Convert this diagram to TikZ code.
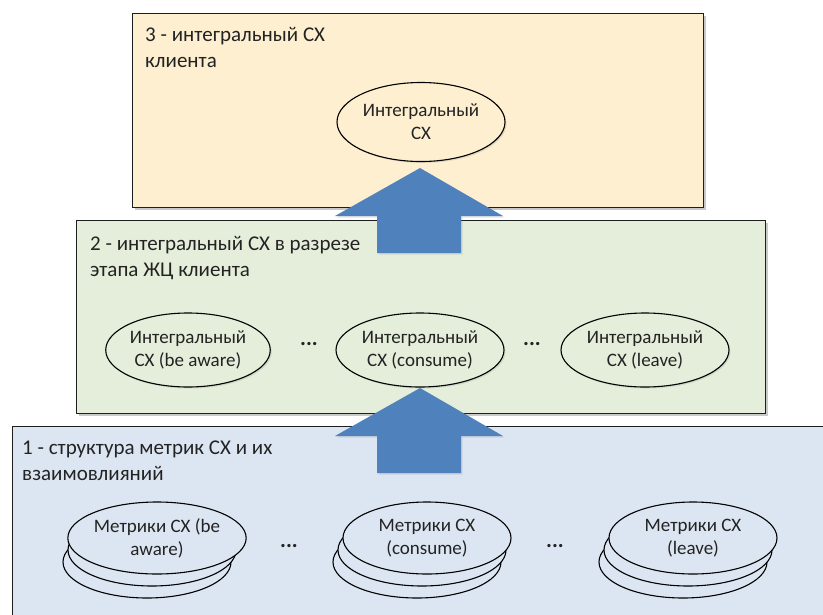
\documentclass[tikz,border=0pt]{standalone}
\usepackage{fontspec}
\setmainfont{Carlito}
\usetikzlibrary{shapes.geometric,shadows}
\definecolor{topfill}{RGB}{253,239,208}
\definecolor{midfill}{RGB}{228,238,218}
\definecolor{botfill}{RGB}{220,230,242}
\definecolor{arrowblue}{RGB}{79,129,189}
\definecolor{txt}{RGB}{35,35,35}
\definecolor{edge}{RGB}{30,30,30}
\begin{document}
\begin{tikzpicture}[x=1pt,y=-1pt,
  layerbox/.style={draw=edge, line width=1.3pt, inner sep=0pt, anchor=north west,
    drop shadow={shadow xshift=2pt,shadow yshift=-2pt,opacity=0.35,fill=black!60}},
  oval/.style={ellipse, draw=black, line width=1.1pt, inner sep=0pt, align=center, text=txt,
    font=\fontsize{19}{23}\selectfont},
  ovalshadow/.style={drop shadow={shadow xshift=1.5pt,shadow yshift=-1.5pt,opacity=0.2,fill=black!50}},
  lbl/.style={anchor=base west, align=left, inner sep=0pt, text=txt, font=\fontsize{21}{26}\selectfont},
  dotsnode/.style={inner sep=0pt, text=txt, font=\fontsize{22}{24}\selectfont\bfseries},
  bigarrow/.style={fill=arrowblue, draw=none,
    drop shadow={shadow xshift=1.5pt,shadow yshift=-1.5pt,opacity=0.2,fill=black!50}}]
\useasboundingbox (0,0) rectangle (823,614);
\fill[white] (0,0) rectangle (823,614);

% layer boxes
\node[layerbox, fill=topfill, minimum width=571, minimum height=194] (layer3) at (132,13) {};
\node[layerbox, fill=midfill, minimum width=689, minimum height=193] (layer2) at (76,220) {};
\node[layerbox, fill=botfill, minimum width=830, minimum height=200] (layer1) at (12,426) {};

% labels (anchor = baseline of the last line)
\node[lbl] (lbl3) at (145,67) {3 - интегральный СХ\\клиента};
\node[lbl] (lbl2) at (90,276) {2 - интегральный СХ в разрезе\\этапа ЖЦ клиента};
\node[lbl] (lbl1) at (22,480) {1 - структура метрик СХ и их\\взаимовлияний};

% top ellipse
\node[oval, ovalshadow, fill=topfill, minimum width=168, minimum height=79] (total) at (421,122) {Интегральный\\СХ};

% middle ellipses
\node[oval, ovalshadow, fill=midfill, minimum width=154, minimum height=74] (ia) at (188,350) {Интегральный\\СХ (be aware)};
\node[oval, ovalshadow, fill=midfill, minimum width=168, minimum height=74] (ic) at (420,350) {Интегральный\\СХ (consume)};
\node[oval, ovalshadow, fill=midfill, minimum width=168, minimum height=74] (il) at (645,350) {Интегральный\\СХ (leave)};
\node[dotsnode] (d1) at (309,344) {...};
\node[dotsnode] (d2) at (532,344) {...};

% bottom stacks
\foreach \cx/\nm in {157/a,427/c,693/l}{
  \node[oval, fill=botfill, minimum width=168, minimum height=72] (m\nm3) at (\cx-10,562) {};
  \node[oval, fill=botfill, minimum width=168, minimum height=72] (m\nm2) at (\cx-5,550) {};
}
\node[oval, fill=botfill, minimum width=168, minimum height=72] (ma) at (157,538) {Метрики СХ (be\\aware)};
\node[oval, fill=botfill, minimum width=168, minimum height=72] (mc) at (427,538) {Метрики СХ\\(consume)};
\node[oval, fill=botfill, minimum width=168, minimum height=72] (ml) at (693,538) {Метрики СХ\\(leave)};
\node[dotsnode] (d3) at (289,546) {...};
\node[dotsnode] (d4) at (555,546) {...};

% block arrows
\path[bigarrow] (420,168) -- (503,216) -- (461,216) -- (461,253) -- (377,253) -- (377,216) -- (335,216) -- cycle;
\path[bigarrow] (420,388) -- (503,436) -- (461,436) -- (461,473) -- (377,473) -- (377,436) -- (335,436) -- cycle;
\end{tikzpicture}
\end{document}
